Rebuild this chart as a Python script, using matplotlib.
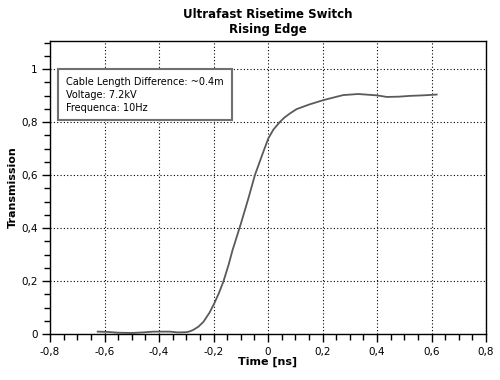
import matplotlib
matplotlib.use('Agg')
import matplotlib.pyplot as plt
from matplotlib.ticker import MultipleLocator, FuncFormatter

# measured curve (time in ns, transmission)
time_ns = [-0.625, -0.59, -0.55, -0.50, -0.46, -0.42, -0.36, -0.33, -0.30,
           -0.29, -0.275, -0.255, -0.237, -0.215, -0.197, -0.18, -0.164,
           -0.145, -0.13, -0.10, -0.072, -0.048, -0.02, 0.001, 0.02, 0.044,
           0.06, 0.081, 0.105, 0.15, 0.203, 0.276, 0.331, 0.399, 0.436, 0.48,
           0.521, 0.57, 0.619]
transmission = [0.009, 0.008, 0.005, 0.004, 0.006, 0.009, 0.009, 0.006, 0.007,
                 0.009, 0.015, 0.028, 0.046, 0.080, 0.116, 0.155, 0.197,
                 0.260, 0.317, 0.415, 0.512, 0.600, 0.680, 0.738, 0.772, 0.801,
                 0.817, 0.833, 0.849, 0.866, 0.883, 0.902, 0.906, 0.901, 0.895, 0.896,
                 0.899, 0.901, 0.904]

title = 'Ultrafast Risetime Switch\nRising Edge'
info = 'Cable Length Difference: ~0.4m\nVoltage: 7.2kV\nFrequenca: 10Hz'

plt.rcParams['font.family'] = 'DejaVu Sans'
fig = plt.figure(figsize=(5, 3.8), dpi=100)
ax = fig.add_axes([0.1, 0.121, 0.872, 0.771])

ax.plot(time_ns, transmission, color='#5a5a5a', linewidth=1.3)

ax.set_xlim(-0.8, 0.8)
ax.set_ylim(0, 1.106)
ax.xaxis.set_major_locator(MultipleLocator(0.2))
ax.xaxis.set_minor_locator(MultipleLocator(0.05))
ax.yaxis.set_major_locator(MultipleLocator(0.2))
ax.yaxis.set_minor_locator(MultipleLocator(0.05))

comma = FuncFormatter(lambda v, p: ('%g' % round(v, 2)).replace('.', ','))
ax.xaxis.set_major_formatter(comma)
ax.yaxis.set_major_formatter(comma)
ax.tick_params(which='major', direction='out', length=6, width=1, labelsize=7.5, pad=3)
ax.tick_params(which='minor', direction='out', length=4, width=1)

ax.grid(True, which='major', color='black', linestyle=(0, (1, 2)), linewidth=0.8)
for s in ax.spines.values():
    s.set_linewidth(1)

ax.set_xlabel('Time [ns]', fontsize=8, fontweight='bold', labelpad=0)
ax.set_ylabel('Transmission', fontsize=8, fontweight='bold', labelpad=2)
ax.set_title(title, fontsize=8.5, fontweight='bold', pad=6, linespacing=1.2)

ax.text(0.037, 0.877, info, transform=ax.transAxes, fontsize=7, va='top', ha='left',
        linespacing=1.35,
        bbox=dict(boxstyle='square,pad=0.8', facecolor='white', edgecolor='#707070', linewidth=1.5))

plt.savefig('out.png', dpi=100)
